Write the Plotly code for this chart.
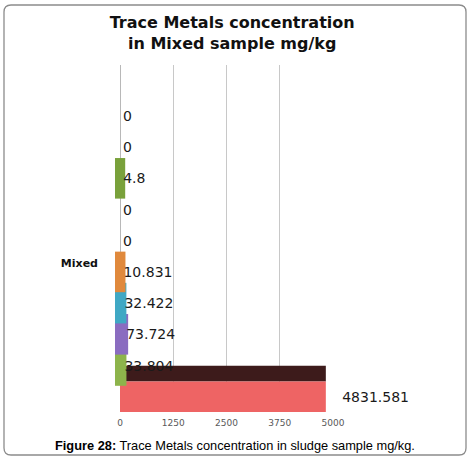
import plotly.graph_objects as go

# ---- data (bottom to top) ----
category = ["Mixed"]
values = [4831.581, 33.804, 73.724, 32.422, 10.831, 0, 0, 4.8, 0, 0]
labels = ["4831.581", "33.804", "73.724", "32.422", "10.831", "0", "0", "4.8", "0", "0"]
colors = ["#EE6464", "#8DB44B", "#8A6CC0", "#3FA8C4", "#E0893C",
          "#4F81BD", "#C0504D", "#79A13B", "#8064A2", "#4BACC6"]
depth_colors = ["#3D1B1B", "#86AC46", "#8366B6", "#3AA0BA", "#D58237",
                "#4F81BD", "#C0504D", "#739A38", "#8064A2", "#4BACC6"]
x_ticks = [0, 1250, 2500, 3750, 5000]

# styling per series (3D side-face thickness, top-face depth, label padding)
side_width = [0, 10, 10, 10, 10, 0, 0, 10, 0, 0]
depth_share = [0.5, 0, 0, 0, 0, 0, 0, 0, 0, 0]
label_pad = ["\u00a0\u00a0\u00a0", "", "", "", "", "", "", "", "", ""]

W, H = 471, 466
L, R, T, B = 100, W - 333, 65, H - 412
pw, ph = W - L - R, H - T - B
x_min = -(120 - L) * 5000 / (333 - 120)

def px(x):
    return (x - L) / pw

def py(y):
    return (H - B - y) / ph

n = len(values)
slot = 0.98 / n
fig = go.Figure()

# depth (top) faces of the 3D bars
for i, v in enumerate(values):
    if depth_share[i] <= 0:
        continue
    fig.add_trace(go.Bar(
        y=category, x=[v], orientation="h",
        offset=-0.49 + i * slot + slot * 0.98, width=slot * depth_share[i],
        marker=dict(color=depth_colors[i], line=dict(width=0)),
        showlegend=False, hoverinfo="skip",
    ))

# front faces with value labels
for i, v in enumerate(values):
    fig.add_trace(go.Bar(
        y=category, x=[v], orientation="h",
        offset=-0.49 + i * slot, width=slot * 0.98,
        marker=dict(color=colors[i],
                    line=dict(color=colors[i], width=side_width[i])),
        text=[labels[i]], texttemplate=label_pad[i] + "%{text}",
        textposition="outside", constraintext="none",
        cliponaxis=False,
        textfont=dict(family="DejaVu Sans", size=14, color="#1a1a1a"),
        showlegend=False, name=labels[i],
    ))

# rounded outer frame
x0, x1, y0, y1 = px(4), px(466), py(455), py(5)
rx, ry = 7 / pw, 7 / ph
path = (f"M {x0+rx},{y1} L {x1-rx},{y1} Q {x1},{y1} {x1},{y1-ry} "
        f"L {x1},{y0+ry} Q {x1},{y0} {x1-rx},{y0} L {x0+rx},{y0} "
        f"Q {x0},{y0} {x0},{y0+ry} L {x0},{y1-ry} Q {x0},{y1} {x0+rx},{y1} Z")

fig.update_layout(
    width=W, height=H,
    margin=dict(l=L, r=R, t=T, b=B),
    paper_bgcolor="white", plot_bgcolor="white",
    barmode="overlay",
    title=dict(text="Trace Metals concentration<br>in Mixed sample mg/kg",
               x=0.493, xanchor="center", y=1 - 28 / H, yanchor="middle",
               font=dict(family="DejaVu Sans", size=16, color="#111111",
                         weight="bold")),
    xaxis=dict(range=[x_min, 5000], tickvals=x_ticks,
               ticktext=[str(t) for t in x_ticks],
               showgrid=True, gridcolor="#C8C8C8", gridwidth=1,
               zeroline=True, zerolinecolor="#B8B8B8", zerolinewidth=1,
               showline=False, ticks="", ticklabelstandoff=4,
               tickfont=dict(family="DejaVu Sans", size=9, color="#595959")),
    yaxis=dict(range=[-0.49, 0.60], showgrid=False, zeroline=False,
               showline=False, ticks="", ticklabelstandoff=1,
               ticklabelshift=7,
               tickfont=dict(family="DejaVu Sans", size=11, color="#111111",
                             weight="bold")),
    shapes=[dict(type="path", xref="paper", yref="paper", path=path,
                 line=dict(color="#8C8C8C", width=1.3), layer="below")],
    annotations=[dict(
        text="<b>Figure 28:</b> Trace Metals concentration in sludge sample mg/kg.",
        xref="paper", yref="paper", x=px(235), y=py(445),
        xanchor="center", yanchor="middle", showarrow=False,
        font=dict(family="Liberation Sans", size=12.8, color="#000000"))],
)

fig.write_html("out.html", config={"displayModeBar": False},
               post_script="document.body.style.margin='0';document.body.style.padding='0';")
